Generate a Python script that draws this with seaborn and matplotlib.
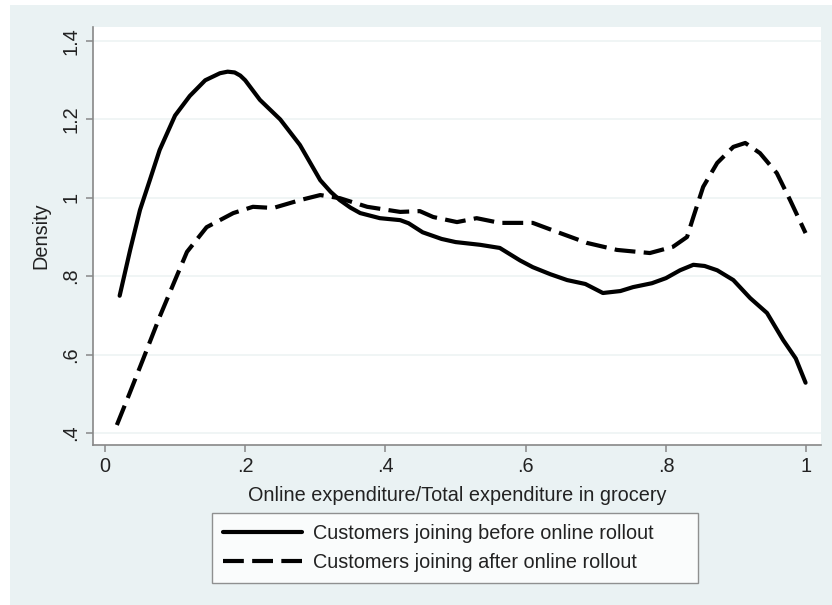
import matplotlib
matplotlib.use("Agg")
import matplotlib.pyplot as plt
import seaborn as sns
import pandas as pd
from matplotlib.patches import Rectangle

# Data
x_before = [0.021, 0.036, 0.05, 0.064, 0.078, 0.10, 0.121, 0.143, 0.164, 0.175, 0.185, 0.193, 0.20,
            0.221, 0.25, 0.278, 0.307, 0.322, 0.335, 0.35, 0.364, 0.392, 0.421, 0.433, 0.453, 0.48,
            0.50, 0.535, 0.563, 0.592, 0.61, 0.635, 0.659, 0.685, 0.71, 0.735, 0.753, 0.78, 0.80,
            0.82, 0.839, 0.855, 0.873, 0.896, 0.92, 0.944, 0.967, 0.985, 0.999]
d_before = [0.75, 0.867, 0.969, 1.045, 1.122, 1.21, 1.26, 1.30, 1.318, 1.322, 1.32, 1.312, 1.30,
            1.25, 1.20, 1.135, 1.045, 1.015, 0.994, 0.975, 0.961, 0.948, 0.943, 0.935, 0.912, 0.895,
            0.887, 0.88, 0.872, 0.84, 0.823, 0.805, 0.79, 0.78, 0.757, 0.762, 0.772, 0.782, 0.795,
            0.815, 0.829, 0.826, 0.815, 0.79, 0.744, 0.706, 0.637, 0.59, 0.528]
x_after = [0.017, 0.035, 0.054, 0.078, 0.10, 0.117, 0.145, 0.183, 0.211, 0.24, 0.278, 0.307, 0.335,
           0.374, 0.421, 0.449, 0.468, 0.502, 0.53, 0.563, 0.61, 0.649, 0.687, 0.73, 0.777, 0.81,
           0.83, 0.839, 0.853, 0.873, 0.896, 0.913, 0.934, 0.958, 0.977, 0.999]
d_after = [0.42, 0.50, 0.586, 0.696, 0.79, 0.862, 0.925, 0.961, 0.977, 0.974, 0.994, 1.007, 0.999,
           0.977, 0.964, 0.966, 0.951, 0.938, 0.948, 0.936, 0.936, 0.91, 0.885, 0.867, 0.859, 0.875,
           0.9, 0.951, 1.028, 1.089, 1.13, 1.14, 1.114, 1.063, 0.994, 0.91]

label_before = "Customers joining before online rollout"
label_after = "Customers joining after online rollout"
x_ticks = [0, 0.2, 0.4, 0.6, 0.8, 1.0]
x_ticklabels = ["0", ".2", ".4", ".6", ".8", "1"]
y_ticks = [0.4, 0.6, 0.8, 1.0, 1.2, 1.4]
y_ticklabels = [".4", ".6", ".8", "1", "1.2", "1.4"]

sns.set_theme(style="white")
plt.rcParams["font.family"] = ["Liberation Sans", "DejaVu Sans"]
plt.rcParams["lines.solid_joinstyle"] = "round"
plt.rcParams["lines.solid_capstyle"] = "round"

FS = 14.3
W, H = 832, 605
fig = plt.figure(figsize=(W / 100, H / 100), dpi=100)
fig.patch.set_facecolor("white")
bg = "#eaf2f3"
fig.patches.append(Rectangle((10 / W, 0), 1, 1 - 5 / H, transform=fig.transFigure,
                             facecolor=bg, edgecolor="none", zorder=-10))

ax = fig.add_axes([93 / W, 1 - 445 / H, (821 - 93) / W, (445 - 27) / H])
ax.set_facecolor("white")

df_b = pd.DataFrame({"x": x_before, "y": d_before})
df_a = pd.DataFrame({"x": x_after, "y": d_after})
sns.lineplot(data=df_b, x="x", y="y", ax=ax, color="black", lw=3.0, sort=False,
             label=label_before, legend=False)
sns.lineplot(data=df_a, x="x", y="y", ax=ax, color="black", lw=3.0, sort=False,
             label=label_after, legend=False)
ax.lines[1].set_linestyle((0, (5.0, 2.0)))

ax.set_xlim(-0.017, 1.021)
ax.set_ylim(0.369, 1.436)
ax.set_xticks(x_ticks)
ax.set_xticklabels(x_ticklabels)
ax.set_yticks(y_ticks)
ax.set_yticklabels(y_ticklabels, rotation=90, va="center")
for t in y_ticks:
    ax.axhline(t, color="#eef3f4", lw=1.2, zorder=0)

for s in ["top", "right"]:
    ax.spines[s].set_visible(False)
for s in ["left", "bottom"]:
    ax.spines[s].set_color("#888888")
    ax.spines[s].set_linewidth(1.2)
ax.tick_params(axis="both", which="major", direction="out", length=5, width=1.1,
               color="#888888", labelsize=FS, labelcolor="#222222", pad=4,
               bottom=True, left=True)

ax.set_xlabel("Online expenditure/Total expenditure in grocery", fontsize=FS, color="#222222",
              labelpad=7)
ax.set_ylabel("Density", fontsize=FS, color="#222222", labelpad=8)

handles = ax.lines[:2]
leg = fig.legend(handles, [label_before, label_after], loc="center",
                 bbox_to_anchor=(212 / W, 1 - 583 / H, 486 / W, 70 / H), mode="expand",
                 ncol=1, fontsize=FS,
                 frameon=True, fancybox=False, edgecolor="#777777", facecolor="white",
                 handlelength=4.0, handletextpad=0.55, borderpad=0.55, labelspacing=0.48,
                 borderaxespad=0)
leg.get_frame().set_linewidth(1.0)
for t in leg.get_texts():
    t.set_color("#222222")

fig.savefig("out.png", dpi=100, facecolor=fig.get_facecolor())
